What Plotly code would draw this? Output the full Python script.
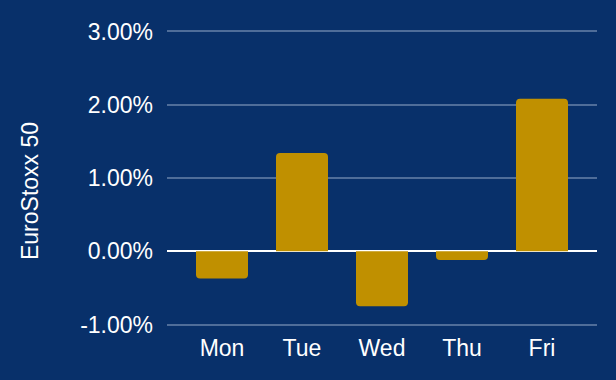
import plotly.graph_objects as go

days = ["Mon", "Tue", "Wed", "Thu", "Fri"]
returns = [-0.37, 1.34, -0.75, -0.12, 2.08]  # percent
ytick_vals = [-1, 0, 1, 2, 3]
ytick_text = ["-1.00%", "0.00%", "1.00%", "2.00%", "3.00%"]
y_title = "EuroStoxx 50"

BG = "#08306a"
BAR = "#c09000"
GRID = "#4f6d99"
FONT = "Liberation Sans, Arial, sans-serif"

fig = go.Figure(
    go.Bar(
        x=list(range(len(days))),
        y=returns,
        width=0.65,
        marker=dict(color=BAR, line=dict(width=0), cornerradius=4),
        hoverinfo="skip",
    )
)

fig.update_layout(
    width=616,
    height=380,
    paper_bgcolor=BG,
    plot_bgcolor=BG,
    margin=dict(l=167, r=19, t=30, b=54),
    showlegend=False,
    font=dict(family=FONT, color="white", size=23),
    annotations=[
        dict(
            text=y_title,
            textangle=-90,
            xref="paper",
            yref="paper",
            x=-0.3186,
            y=0.456,
            xanchor="center",
            yanchor="middle",
            showarrow=False,
            font=dict(family=FONT, color="white", size=23),
        )
    ],
)

fig.update_xaxes(
    range=[-0.6875, 4.6875],
    tickmode="array",
    tickvals=list(range(len(days))),
    ticktext=days,
    showgrid=False,
    zeroline=False,
    showline=False,
    ticks="",
    ticklabelstandoff=6,
    tickfont=dict(size=23, color="white"),
)

fig.update_yaxes(
    range=[-1.02, 3.02],
    tickmode="array",
    tickvals=ytick_vals,
    ticktext=ytick_text,
    showgrid=True,
    gridcolor=GRID,
    gridwidth=1.5,
    zeroline=True,
    zerolinecolor="white",
    zerolinewidth=2,
    showline=False,
    ticks="",
    ticklabelstandoff=13,
    tickfont=dict(size=23, color="white"),
)

fig.write_html(
    "out.html",
    config={"displayModeBar": False},
    post_script="document.body.style.margin='0';document.body.style.padding='0';"
    "document.body.style.background='" + BG + "';",
)
